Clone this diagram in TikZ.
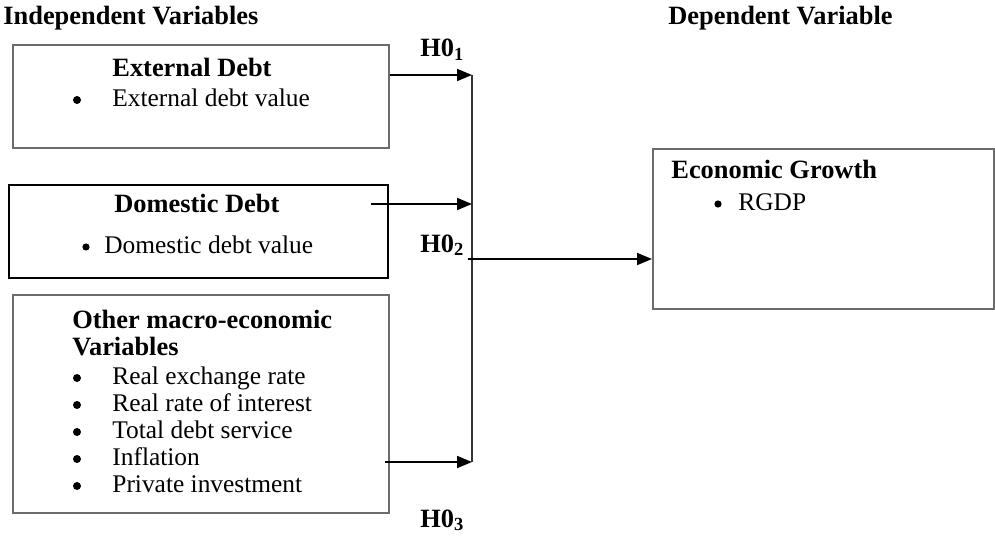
\documentclass[tikz,border=0pt]{standalone}
\usepackage{fontspec}
\setmainfont{Liberation Serif}
\usetikzlibrary{arrows.meta,positioning}

\begin{document}
\begin{tikzpicture}[x=0.5pt, y=-0.5pt,
    box/.style={draw=gray!85!black, line width=0.8pt, anchor=north west, inner sep=0pt},
    txt/.style={anchor=base west, inner sep=0pt, font=\fontsize{12.7}{15}\selectfont},
    hd/.style={anchor=base west, inner sep=0pt, font=\fontsize{13.2}{15}\selectfont\bfseries},
    dot/.style={circle, fill=black, inner sep=0pt, minimum size=4pt},
    arr/.style={-{Triangle[length=7.5pt,width=6pt]}, line width=0.9pt},
  ]
  \useasboundingbox (0,0) rectangle (995,540);

  % headings
  \node[hd] (indep) at (3,25) {Independent Variables};
  \node[hd] (dep) at (668,25) {Dependent Variable};

  % boxes
  \node[box, minimum width=188pt, minimum height=51.5pt] (ext) at (12,44) {};
  \node[box, draw=black, minimum width=189.5pt, minimum height=46.5pt] (dom) at (8,184) {};
  \node[box, minimum width=188pt, minimum height=109pt] (oth) at (12,294) {};
  \node[box, minimum width=170.5pt, minimum height=80pt] (growth) at (652,148) {};

  % external debt
  \node[hd] (extt) at (112,77) {External Debt};
  \node[dot] (extb) at (77,100) {};
  \node[txt] (exti) at (112,106) {External debt value};

  % domestic debt
  \node[hd] (domt) at (114,212) {Domestic Debt};
  \node[dot, minimum size=3.6pt] (domb) at (86,247) {};
  \node[txt] (domi) at (104,253) {Domestic debt value};

  % other variables
  \node[hd] (otht) at (72,328) {Other macro-economic};
  \node[hd] (otht2) at (72,355) {Variables};
  \foreach \lbl [count=\i] in {Real exchange rate, Real rate of interest,
      Total debt service, Inflation, Private investment} {
    \node[dot] (othb\i) at (77,351+27*\i) {};
    \node[txt] (othi\i) at (112,357+27*\i) {\lbl};
  }

  % economic growth
  \node[hd] (grt) at (671,178) {Economic Growth};
  \node[dot, minimum size=3.6pt] (grb) at (718,204) {};
  \node[txt] (gri) at (738,210) {RGDP};

  % hypotheses
  \node[hd] (h1) at (420,57) {H0\textsubscript{1}};
  \node[hd] (h2) at (420,252) {H0\textsubscript{2}};
  \node[hd] (h3) at (420,527) {H0\textsubscript{3}};

  % connectors
  \coordinate (bt) at (472,75);
  \coordinate (bb) at (472,462);
  \coordinate (d0) at (371,204);
  \coordinate (o0) at (385,462);
  \coordinate (hub) at (468,259);

  \draw[line width=0.9pt, black!80] (bt) -- (bb);
  \draw[arr] (ext.east |- bt) -- (bt);
  \draw[arr] (d0) -- (d0 -| bt);
  \draw[arr] (o0) -- (bb);
  \draw[arr] (hub) -- (hub -| growth.west);
\end{tikzpicture}
\end{document}
